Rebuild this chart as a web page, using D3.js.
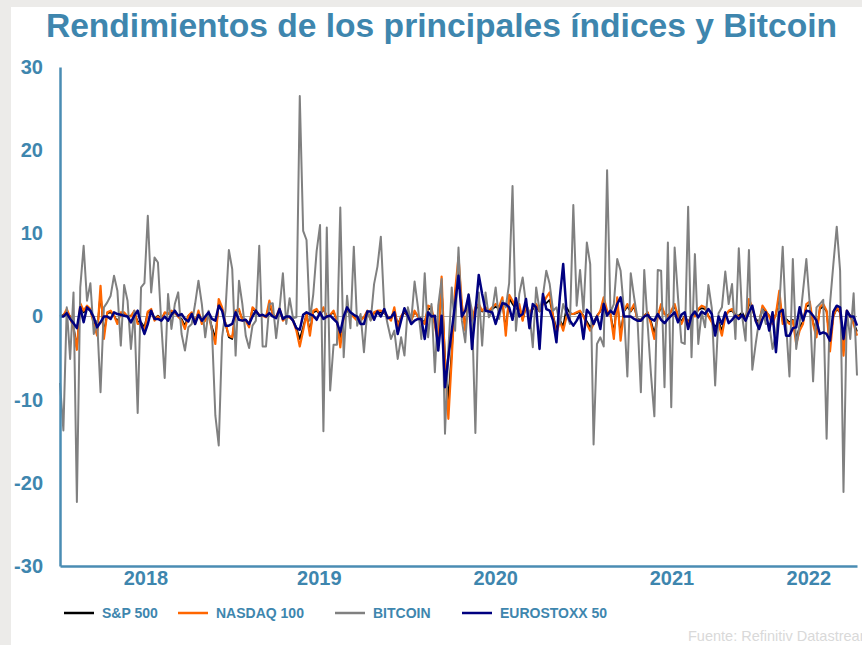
<!DOCTYPE html>
<html><head><meta charset="utf-8">
<script src="https://cdn.jsdelivr.net/npm/d3@7"></script>
<style>
html,body{margin:0;padding:0;background:#ECEBE9;}
svg{display:block;font-family:"Liberation Sans",Arial,sans-serif;}
</style></head>
<body>
<svg id="chart" width="862" height="645"></svg>
<script>
const title = "Rendimientos de los principales índices y Bitcoin";
const source = "Fuente: Refinitiv Datastream";
const seriesNames = ["S&P 500", "NASDAQ 100", "BITCOIN", "EUROSTOXX 50"];
const seriesColors = ["#000000", "#FF6600", "#808080", "#000080"];
const seriesWidths = [1.8, 2.2, 2, 2.5];
const yTicks = [-30, -20, -10, 0, 10, 20, 30];
const yearLabels = ["2018", "2019", "2020", "2021", "2022"];
const firstWeek = "2018-01-12"; // weekly observations (Fridays)

const sp500 = [
 0.0,0.2,0.6,0.0,-1.2,-3.8,1.4,0.5,1.0,0.7,
 -0.6,-1.8,2.8,-2.0,0.4,0.5,0.1,-0.6,0.4,0.4,
 0.0,0.1,0.5,-0.6,-0.7,-1.3,0.5,0.7,-0.3,0.1,
 -0.3,0.4,0.3,0.5,0.4,0.0,-0.3,-1.1,0.1,0.4,
 -0.6,0.5,-0.6,-0.4,0.2,-1.3,-2.6,1.6,0.9,-0.8,
 -2.5,-2.7,0.6,0.7,-0.3,-0.4,-1.0,0.9,0.6,0.2,
 0.1,0.0,1.4,0.3,-0.1,0.8,-0.3,0.0,-0.1,-0.4,
 -1.4,-2.7,-1.3,0.3,-1.8,0.5,0.7,0.2,0.9,0.0,
 0.2,0.5,-0.4,-2.8,0.0,0.7,0.3,0.0,-0.4,-0.4,
 -0.1,0.5,-0.3,0.4,0.5,0.5,0.4,0.0,-0.4,0.8,
 -1.0,0.0,0.5,0.0,-0.4,0.5,0.1,-0.4,-0.7,1.0,
 0.8,-0.8,-2.9,3.6,-4.8,-10.0,-4.2,2.6,5.4,1.2,
 -1.3,1.8,-0.4,0.9,1.2,0.6,0.9,0.6,0.9,1.2,
 0.9,1.7,-1.6,2.2,1.5,0.9,1.2,-0.4,1.2,0.3,
 0.9,1.2,0.6,1.7,1.6,2.0,0.1,-1.5,-0.4,-1.2,
 1.1,0.4,0.3,0.4,0.6,0.1,-0.6,-1.3,-0.7,0.1,
 0.6,1.8,0.6,0.3,-1.9,1.8,-2.1,0.6,1.2,0.6,
 1.2,-0.3,-0.4,0.1,0.5,-0.6,-2.0,0.1,1.2,0.3,
 0.1,0.6,1.2,0.1,-0.6,0.1,-0.7,0.2,0.1,0.8,
 1.0,0.9,0.1,-0.5,-1.3,-0.6,-1.7,0.1,0.6,0.7,
 0.2,0.1,0.5,-0.3,1.6,0.9,-0.3,-0.7,1.0,0.6,
 0.1,-0.6,0.3,2.3,-0.6,-0.3,-0.7,-0.4,-2.6,-1.3,
 -0.6,1.2,1.4,-0.7,-1.9,0.9,1.2,0.6,-3.2,0.1,
 0.9,0.5,-3.6,0.6,0.1,-0.7,-1.8
];
const nasdaq100 = [
 0.0,0.1,0.9,-0.1,-1.5,-4.0,1.6,0.7,1.3,0.9,
 -0.9,-2.3,3.7,-2.7,0.5,0.7,0.1,-0.9,0.5,0.5,
 0.0,0.0,0.7,-0.9,-0.9,-1.7,0.6,0.9,-0.5,0.0,
 -0.5,0.5,0.3,0.7,0.5,0.0,-0.5,-1.5,0.1,0.5,
 -0.9,0.7,-0.9,-0.5,0.3,-1.7,-3.3,2.1,1.1,-0.9,
 -2.3,-2.5,0.7,0.9,-0.5,-0.5,-1.3,1.1,0.7,0.2,
 0.1,-0.1,1.9,0.3,-0.1,1.0,-0.5,-0.1,-0.1,-0.5,
 -1.7,-3.6,-1.7,0.3,-2.3,0.7,0.9,0.2,1.1,-0.1,
 0.2,0.7,-0.5,-3.7,-0.1,0.9,0.4,-0.1,-0.5,-0.5,
 -0.1,0.7,-0.4,0.5,0.7,0.7,0.5,0.0,-0.5,1.1,
 -1.3,0.0,0.7,0.0,-0.5,0.7,0.0,-0.5,-0.9,1.3,
 1.1,-1.1,-3.3,4.8,-5.7,-12.3,-5.0,3.1,7.1,1.5,
 -1.7,2.3,-0.5,1.1,1.5,0.7,1.1,0.7,1.1,1.5,
 1.1,2.3,-2.3,2.6,1.9,1.1,1.5,-0.5,1.5,0.3,
 1.1,1.5,0.7,1.5,2.3,2.9,0.0,-2.1,-0.5,-1.7,
 0.0,0.3,0.3,0.5,0.7,0.0,-0.9,-1.7,-0.9,0.0,
 0.7,2.3,0.7,0.3,-2.7,2.3,-2.9,0.7,1.5,0.7,
 1.5,-0.5,-0.5,0.0,0.5,-0.9,-2.7,0.0,1.5,0.3,
 0.0,0.7,1.5,0.0,-0.9,0.0,-0.9,0.1,0.0,0.9,
 1.3,1.1,0.0,-0.7,-1.7,-0.9,-2.3,0.0,0.7,0.9,
 0.1,0.0,0.0,-0.5,2.1,1.1,-0.5,-0.9,1.3,0.7,
 0.0,-0.9,0.3,3.1,-0.9,-0.5,-0.9,-0.5,-3.3,-1.7,
 -0.9,1.5,1.8,-0.9,-2.5,1.1,1.5,0.7,-4.2,0.0,
 1.1,0.5,-4.7,0.7,0.0,-0.9,-2.3
];
const bitcoin = [
 -8.0,-13.7,1.1,-5.1,2.9,-22.3,3.5,8.5,1.9,4.0,
 -2.1,-0.5,-9.1,1.1,1.7,2.5,4.9,3.1,-3.5,3.8,
 1.9,-3.9,0.7,-11.6,3.5,4.0,12.1,2.9,7.1,6.5,
 -0.9,-7.4,2.7,-1.5,1.5,2.9,-2.1,-4.1,-1.3,-0.9,
 1.5,4.3,1.5,-2.5,0.7,-1.7,-11.9,-15.5,-2.5,0.7,
 8.0,5.7,-4.7,4.3,1.5,-2.3,-3.8,-1.1,-0.5,8.5,
 -3.6,-3.6,1.5,1.6,-2.6,0.9,5.2,-0.9,2.2,-0.2,
 -0.1,26.5,10.3,9.2,-0.5,2.7,7.9,11.0,-13.8,10.7,
 -8.9,-3.4,-3.4,13.1,-4.9,2.5,-1.4,8.4,-1.1,0.3,
 -4.3,0.7,-0.5,3.9,6.0,9.6,1.1,-0.9,-2.7,-1.7,
 -5.1,-2.5,-4.7,1.1,-0.5,4.2,1.1,-2.7,5.2,-2.5,
 1.5,-6.7,1.3,4.5,-14.1,-4.0,3.5,-1.7,8.3,-0.5,
 -3.1,2.7,0.7,-14.0,2.9,-3.5,2.9,-0.1,0.7,3.5,
 -0.3,1.9,1.1,4.0,15.7,-1.7,2.7,4.7,1.5,0.5,
 -3.7,3.5,0.7,2.5,5.5,3.9,0.7,1.1,-0.9,1.5,
 0.3,-0.9,13.4,1.3,5.6,0.5,8.9,6.3,-15.4,-3.3,
 -2.5,-3.6,17.6,0.5,1.5,6.9,5.5,0.7,-7.2,5.2,
 2.3,-0.3,-9.1,5.6,-0.9,-7.0,-12.0,5.6,5.5,-8.5,
 8.9,-10.9,8.3,2.3,-3.1,-3.3,13.2,-4.9,7.5,-3.3,
 0.5,-1.3,3.8,1.0,-8.3,0.4,1.1,5.4,1.5,3.9,
 -2.7,8.2,0.0,-2.9,8.0,-6.4,-3.3,-0.5,0.9,-0.9,
 -0.9,-3.9,-2.1,1.3,8.4,-0.9,-7.2,6.9,-3.9,-0.9,
 3.0,6.9,1.5,-7.8,1.1,1.5,2.0,-14.7,1.5,6.3,
 10.8,5.5,-21.1,0.7,-2.7,2.8,-7.1
];
const eurostoxx50 = [
 0.0,0.0,0.4,-0.3,-0.8,-1.4,1.1,-0.7,1.1,0.7,
 -0.1,-1.3,-0.7,0.0,0.0,-0.3,0.5,0.3,0.2,0.1,
 0.0,-0.7,0.1,0.7,-0.9,-2.1,-0.9,0.7,-0.3,-0.3,
 -0.5,0.0,-0.5,0.2,0.7,0.1,0.3,-0.3,-0.6,0.3,
 -0.9,0.2,-0.5,0.0,0.5,-0.3,-0.5,1.3,0.7,-1.1,
 -1.1,-0.9,0.5,-0.4,-0.5,-0.4,-0.9,0.0,0.7,0.1,
 0.2,0.0,0.4,0.0,-0.2,0.9,-0.3,0.0,0.0,-0.5,
 -1.4,-1.6,0.2,0.5,0.3,0.1,-0.4,0.5,-0.3,0.0,
 0.1,-0.3,-0.7,-1.9,0.0,1.1,0.5,0.2,0.0,-0.9,
 -0.9,0.6,0.6,-0.4,0.6,0.0,0.9,-0.2,-0.1,0.5,
 -2.1,-0.5,1.0,0.1,-0.9,-0.5,-0.3,-0.3,-2.7,0.5,
 0.0,0.1,-4.1,0.1,-8.5,-4.9,-1.7,1.5,4.9,0.0,
 0.7,2.6,-3.9,0.5,5.0,2.7,0.7,0.6,0.5,-0.9,
 0.5,1.6,1.5,1.1,-0.4,2.2,0.0,0.3,2.1,-1.4,
 1.5,1.1,-3.9,2.7,0.9,0.7,-0.5,-3.1,2.3,6.3,
 0.5,-0.5,-1.1,-0.5,0.3,-2.7,0.8,0.3,-0.9,0.0,
 -1.5,1.5,0.1,0.7,0.3,1.5,2.3,0.0,0.0,0.0,
 -0.3,-0.5,-0.5,0.0,0.2,-0.3,-0.5,0.3,-0.4,-0.8,
 -0.3,0.1,0.5,-0.7,0.2,0.5,-1.5,0.1,0.6,-0.1,
 0.6,0.3,0.9,0.3,-2.3,0.0,-0.9,0.5,-0.8,-0.4,
 0.1,-0.3,0.2,-0.5,0.5,1.3,-0.5,-1.5,-0.3,0.5,
 -1.7,0.5,-4.3,0.5,0.8,-2.3,-2.3,-1.4,-1.3,1.1,
 -0.5,0.7,0.6,0.1,-0.5,-2.1,-1.9,-2.1,-2.9,0.6,
 1.3,1.1,-2.7,0.7,0.0,0.0,-1.1
];

const allSeries = [sp500, nasdaq100, bitcoin, eurostoxx50];
const start = d3.timeParse("%Y-%m-%d")(firstWeek);
const dates = bitcoin.map((_, i) => d3.timeDay.offset(start, 7 * i));

const W = 862, H = 645;
const textColor = "#3E86AE", axisColor = "#4A8CB3";
const svg = d3.select("#chart");

// background panel
svg.append("rect").attr("x", 0).attr("y", 0).attr("width", W).attr("height", H).attr("fill", "#ECEBE9");
svg.append("rect").attr("x", 11).attr("y", 7).attr("width", W - 11).attr("height", H - 7).attr("fill", "#FFFFFF");

const plot = {left: 60, right: 857, top: 67, bottom: 566};
const x = d3.scaleTime().domain([dates[0], dates[dates.length - 1]]).range([plot.left, plot.right]);
const y = d3.scaleLinear().domain([-30, 30]).range([plot.bottom, plot.top]);

// title
svg.append("text").attr("x", 441.5).attr("y", 37).attr("text-anchor", "middle")
  .attr("fill", textColor).attr("font-weight", "bold").attr("font-size", 33.6).text(title);

// zero line
svg.append("line").attr("x1", plot.left).attr("x2", plot.right)
  .attr("y1", y(0)).attr("y2", y(0)).attr("stroke", "#A6A6A6").attr("stroke-width", 1);

// series
const line = d3.line().x((d, i) => x(dates[i])).y(d => y(d));
allSeries.forEach((s, k) => {
  svg.append("path").datum(s).attr("d", line).attr("fill", "none")
    .attr("stroke", seriesColors[k]).attr("stroke-width", seriesWidths[k])
    .attr("stroke-linejoin", "round");
});

// y axis
const yAxis = svg.append("g").attr("transform", `translate(${plot.left},0)`)
  .call(d3.axisLeft(y).tickValues(yTicks).tickSize(0).tickPadding(17).tickSizeOuter(0)
    .tickFormat(d => String(d)));
yAxis.select(".domain").attr("stroke", axisColor).attr("stroke-width", 2.5);
yAxis.selectAll("text").attr("fill", textColor).attr("font-weight", "bold")
  .attr("font-size", 20).attr("font-family", "Liberation Sans, Arial, sans-serif");

// x axis: year labels centred on the visible part of each year
const d0 = dates[0], d1 = dates[dates.length - 1];
const yearMids = yearLabels.map(yl => {
  const a = new Date(+yl, 0, 1), b = new Date(+yl + 1, 0, 1);
  const s = a < d0 ? d0 : a, e = b > d1 ? d1 : b;
  return new Date((+s + +e) / 2);
});
const xAxis = svg.append("g").attr("transform", `translate(0,${plot.bottom})`)
  .call(d3.axisBottom(x).tickValues(yearMids).tickSize(0).tickPadding(5).tickSizeOuter(0)
    .tickFormat((d, i) => yearLabels[i]));
xAxis.select(".domain").attr("stroke", axisColor).attr("stroke-width", 2.5);
xAxis.selectAll("text").attr("fill", textColor).attr("font-weight", "bold")
  .attr("font-size", 20).attr("font-family", "Liberation Sans, Arial, sans-serif");

// legend
const legendX = [64, 178, 335, 462];
const legend = svg.append("g").attr("transform", "translate(0,613)");
seriesNames.forEach((n, k) => {
  legend.append("line").attr("x1", legendX[k]).attr("x2", legendX[k] + 30)
    .attr("y1", 0).attr("y2", 0).attr("stroke", seriesColors[k]).attr("stroke-width", 2.5);
  legend.append("text").attr("x", legendX[k] + 38).attr("y", 5)
    .attr("fill", textColor).attr("font-weight", "bold").attr("font-size", 14).text(n);
});

// source (clipped at the right edge, as in the original)
svg.append("text").attr("x", 688).attr("y", 641).attr("fill", "#D9D9D9")
  .attr("font-size", 14.5).text(source);
</script>
</body></html>
